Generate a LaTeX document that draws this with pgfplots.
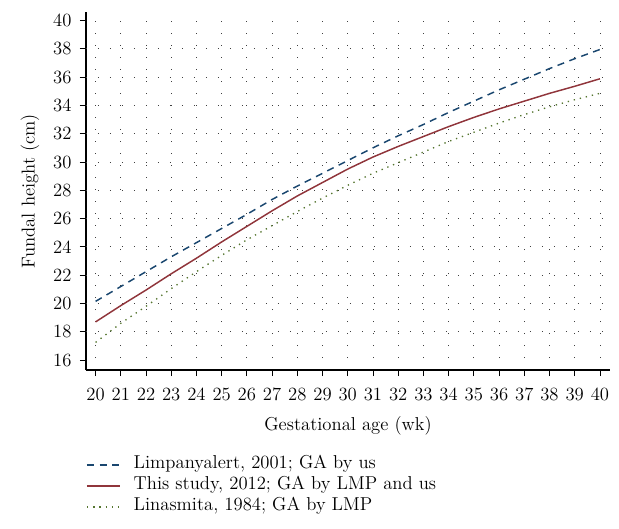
\documentclass[border=0pt]{standalone}
\usepackage{fontspec}
\usepackage{pgfplots}
\pgfplotsset{compat=1.18}
\definecolor{snavy}{RGB}{26,71,111}
\definecolor{smaroon}{RGB}{144,53,59}
\definecolor{sgreen}{RGB}{85,117,47}
\pgfplotstableread{
x y
20 20.15
21 21.2
22 22.25
23 23.3
24 24.3
25 25.3
26 26.3
27 27.35
28 28.3
29 29.2
30 30.1
31 31.0
32 31.85
33 32.65
34 33.5
35 34.3
36 35.1
37 35.85
38 36.6
39 37.3
40 37.95
}\limp
\pgfplotstableread{
x y
20 18.7
21 19.85
22 20.95
23 22.1
24 23.2
25 24.35
26 25.45
27 26.55
28 27.6
29 28.55
30 29.5
31 30.35
32 31.1
33 31.8
34 32.5
35 33.15
36 33.75
37 34.3
38 34.85
39 35.35
40 35.88
}\thisstudy
\pgfplotstableread{
x y
20 17.25
21 18.6
22 19.8
23 21.05
24 22.25
25 23.4
26 24.5
27 25.5
28 26.5
29 27.45
30 28.35
31 29.2
32 29.95
33 30.7
34 31.45
35 32.1
36 32.75
37 33.35
38 33.9
39 34.4
40 34.85
}\lina
\begin{document}
\fontsize{14}{16.8}\selectfont
\begin{tikzpicture}
\useasboundingbox (-64.5pt,-119.25pt) rectangle (399.75pt,277.5pt);
\begin{axis}[
 at={(0,0)}, anchor=south west,
 scale only axis, width=393pt, height=268.5pt,
 xmin=19.62, xmax=40.4, ymin=15.3, ymax=40.6,
 axis lines=left, axis line style={-, line width=0.8pt},
 xtick={20,...,40}, ytick={16,18,...,40},
 /pgf/number format/assume math mode=true,
 tick align=outside, major tick length=4.5pt,
 tick style={black, line width=0.6pt},
 xticklabel style={anchor=north, inner sep=0pt, yshift=-8.5pt},
 yticklabel style={anchor=east, inner sep=0pt, xshift=-6.2pt},
 xmajorgrids,
 grid style={black!75, line width=0.6pt, dash pattern=on 0.6pt off 8.4pt},
 extra y ticks={18,20,...,38}, extra y tick labels={},
 extra y tick style={grid=major},
 xlabel={Gestational age (wk)}, ylabel={Fundal height (cm)},
 xlabel style={at={(axis description cs:0.5,-0.1564)}, anchor=center, inner sep=0pt},
 ylabel style={at={(axis description cs:-0.10687,0.5)}, anchor=center, inner sep=0pt},
 legend style={at={(axis description cs:0,0)}, anchor=north west, yshift=-65pt,
   draw=none, fill=none, inner sep=0pt, row sep=3.75pt, column sep=9.75pt,
   nodes={text height=9pt, text depth=3pt, inner sep=0pt}},
 legend cell align=left,
 legend image code/.code={\draw[#1] (0pt,0pt) -- (24.75pt,0pt);},
]
\addplot[snavy, line width=1.1pt, dash pattern=on 5.3pt off 4.2pt] table {\limp};
\addlegendentry{Limpanyalert, 2001; GA by us}
\addplot[smaroon, line width=1.1pt] table {\thisstudy};
\addlegendentry{This study, 2012; GA by LMP and us}
\addplot[sgreen, line width=1pt, dash pattern=on 1pt off 3.65pt] table {\lina};
\addlegendentry{Linasmita, 1984; GA by LMP}
\end{axis}
\end{tikzpicture}
\end{document}
